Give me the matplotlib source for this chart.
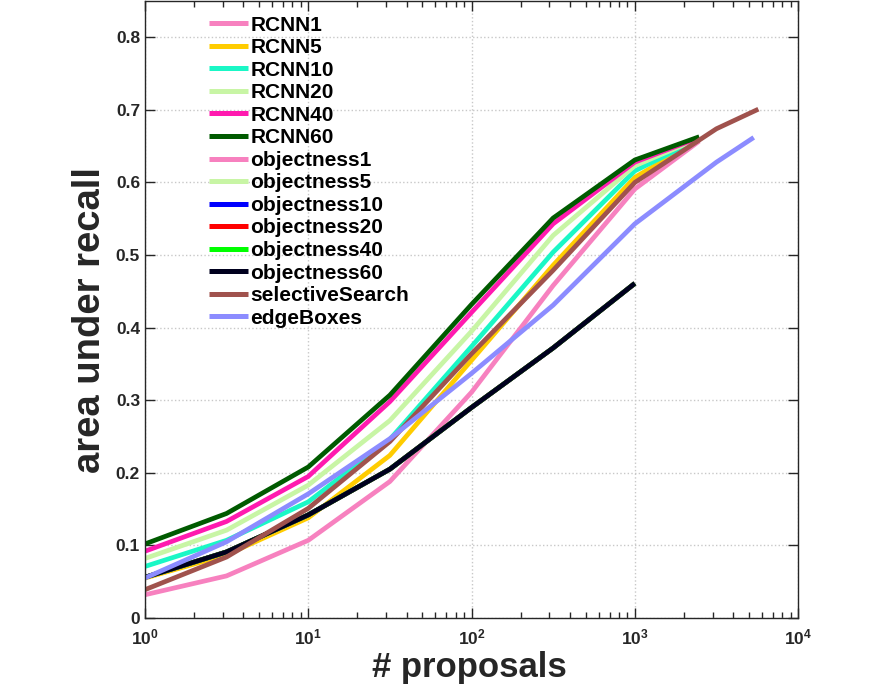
import numpy as np
import matplotlib
matplotlib.use('Agg')
import matplotlib.pyplot as plt
from matplotlib.ticker import FixedLocator, FixedFormatter, LogLocator, NullFormatter

plt.rcParams['font.family'] = ['Liberation Sans', 'DejaVu Sans']
plt.rcParams['font.weight'] = 'bold'
plt.rcParams['mathtext.fontset'] = 'custom'
plt.rcParams['mathtext.rm'] = 'Liberation Sans'
plt.rcParams['mathtext.bf'] = 'Liberation Sans:bold'

# liczba propozycji (os x)
x_rcnn = [1, 3.16, 10, 31.6, 100, 316, 1000, 2480]
x_obj = [1, 3.16, 10, 31.6, 100, 316, 1000]
x_ss = [1, 3.16, 10, 31.6, 100, 316, 1000, 3162, 5710]
x_eb = [1, 3.16, 10, 31.6, 100, 316, 1000, 3162, 5350]

# pole pod krzywa recall
rcnn1 = [0.032, 0.058, 0.107, 0.188, 0.311, 0.458, 0.591, 0.657]
rcnn5 = [0.055, 0.087, 0.138, 0.224, 0.355, 0.486, 0.607, 0.659]
rcnn10 = [0.071, 0.107, 0.160, 0.246, 0.374, 0.504, 0.616, 0.660]
rcnn20 = [0.082, 0.121, 0.183, 0.272, 0.395, 0.527, 0.623, 0.661]
rcnn40 = [0.092, 0.133, 0.195, 0.298, 0.421, 0.543, 0.628, 0.662]
rcnn60 = [0.102, 0.144, 0.208, 0.307, 0.432, 0.551, 0.631, 0.663]
objectness = [0.056, 0.091, 0.142, 0.205, 0.290, 0.372, 0.461]
selective_search = [0.039, 0.084, 0.151, 0.243, 0.364, 0.479, 0.600, 0.674, 0.701]
edge_boxes = [0.055, 0.105, 0.171, 0.247, 0.337, 0.431, 0.543, 0.628, 0.662]

serie = [
    ('RCNN1', x_rcnn, rcnn1, '#F781BF'),
    ('RCNN5', x_rcnn, rcnn5, '#FFCC00'),
    ('RCNN10', x_rcnn, rcnn10, '#1AF7C6'),
    ('RCNN20', x_rcnn, rcnn20, '#C8F5A5'),
    ('RCNN40', x_rcnn, rcnn40, '#FF1AAF'),
    ('RCNN60', x_rcnn, rcnn60, '#005A00'),
    ('objectness1', x_obj, objectness, '#F781BF'),
    ('objectness5', x_obj, objectness, '#C8F5A5'),
    ('objectness10', x_obj, objectness, '#0000FF'),
    ('objectness20', x_obj, objectness, '#FF0000'),
    ('objectness40', x_obj, objectness, '#00FF00'),
    ('objectness60', x_obj, objectness, '#00001E'),
    ('selectiveSearch', x_ss, selective_search, '#A0524D'),
    ('edgeBoxes', x_eb, edge_boxes, '#8C8CFF'),
]

fig = plt.figure(figsize=(8.85, 6.84), dpi=100)
ax = fig.add_axes([0.1638, 0.0965, 0.738, 0.902])

for nazwa, xs, ys, kolor in serie:
    ax.plot(xs, ys, color=kolor, linewidth=3.4, label=nazwa, solid_capstyle='butt')

ax.set_xscale('log')
ax.set_xlim(1, 1e4)
ax.set_ylim(0, 0.85)

ax.xaxis.set_major_locator(FixedLocator([1, 10, 100, 1000, 10000]))
ax.xaxis.set_major_formatter(FixedFormatter([r'$\mathbf{10^{%d}}$' % k for k in range(5)]))
ax.xaxis.set_minor_locator(LogLocator(base=10, subs=np.arange(2, 10)))
ax.xaxis.set_minor_formatter(NullFormatter())
ax.set_yticks([0, 0.1, 0.2, 0.3, 0.4, 0.5, 0.6, 0.7, 0.8])
ax.set_yticklabels(['0', '0.1', '0.2', '0.3', '0.4', '0.5', '0.6', '0.7', '0.8'])

ax.tick_params(which='both', direction='in', top=True, right=True, color='#262626',
               labelcolor='#262626', labelsize=12.5, width=1)
ax.tick_params(which='major', length=7)
ax.tick_params(axis='x', which='major', pad=7)
ax.tick_params(which='minor', length=4)
for s in ax.spines.values():
    s.set_color('#262626')
    s.set_linewidth(1)

ax.grid(True, which='major', linestyle=':', color='#c8c8c8', linewidth=1)

ax.set_xlabel('# proposals', fontsize=25, fontweight='bold', color='#262626')
ax.xaxis.set_label_coords(0.497, -0.053)
ax.set_ylabel('area under recall', fontsize=27.5, fontweight='bold', color='#262626')
ax.yaxis.set_label_coords(-0.056, 0.483)

leg = ax.legend(loc='upper left', bbox_to_anchor=(0.075, 1.0), frameon=False,
                handlelength=1.9, handletextpad=0.1, labelspacing=0.17, borderpad=0.2,
                prop={'weight': 'bold', 'size': 15})
for linia in leg.get_lines():
    linia.set_linewidth(3.6)

fig.savefig('out.png', dpi=100)
